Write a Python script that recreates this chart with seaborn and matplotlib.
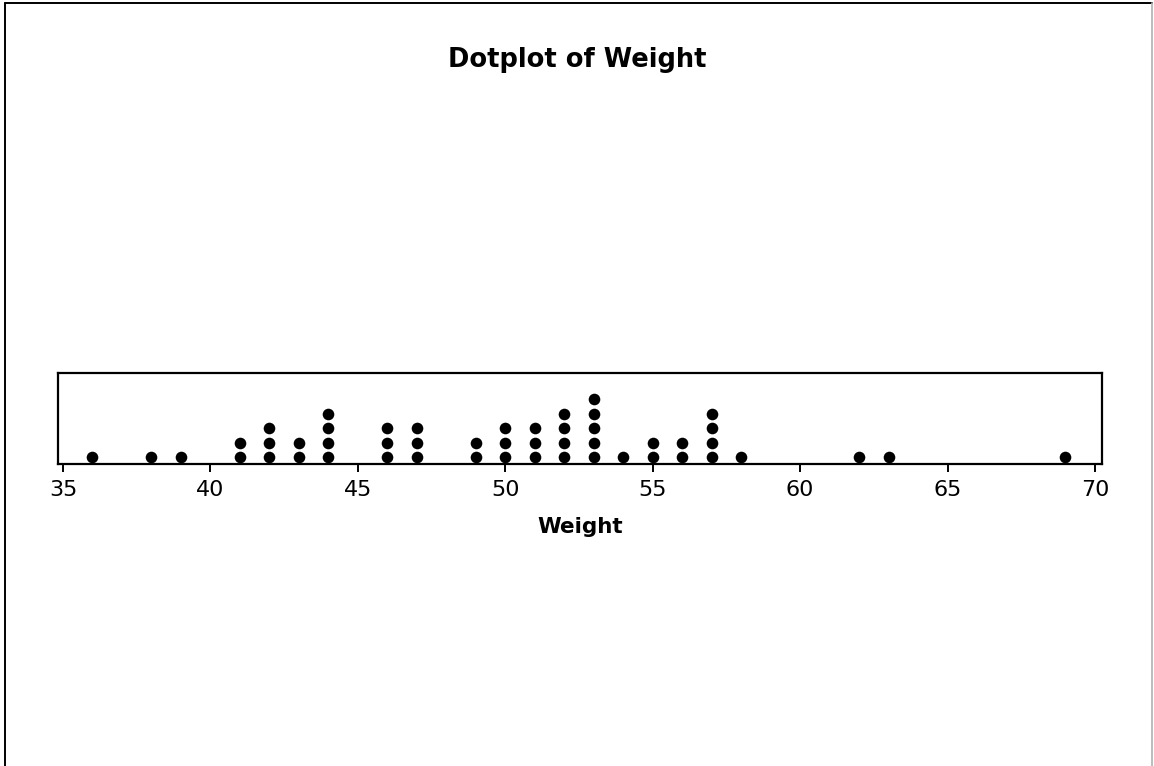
import matplotlib
matplotlib.use("Agg")
import matplotlib.pyplot as plt
from matplotlib.lines import Line2D
import seaborn as sns
import pandas as pd

# Observed weights and how many times each occurs
weights = [36, 38, 39, 41, 42, 43, 44, 46, 47, 49, 50, 51, 52, 53, 54, 55, 56, 57, 58, 62, 63, 69]
counts = [1, 1, 1, 2, 3, 2, 4, 3, 3, 2, 3, 3, 4, 5, 1, 2, 2, 4, 1, 1, 1, 1]
x_ticks = [35, 40, 45, 50, 55, 60, 65, 70]

# Expand into one row per observation, stacked upward within each value
rows = []
for w, c in zip(weights, counts):
    for level in range(1, c + 1):
        rows.append({"Weight": w, "level": level})
df = pd.DataFrame(rows)

sns.set_theme(style="white")
plt.rcParams["font.family"] = ["DejaVu Sans"]
plt.rcParams["text.color"] = "black"
plt.rcParams["xtick.color"] = "black"
plt.rcParams["axes.labelcolor"] = "black"

fig = plt.figure(figsize=(11.54, 7.66), dpi=100)
fig.patch.set_facecolor("white")
ax = fig.add_axes([58 / 1154, 1 - 464 / 766, (1102 - 58) / 1154, (464 - 373) / 766])

sns.scatterplot(data=df, x="Weight", y="level", ax=ax, color="black",
                s=70, marker="o", edgecolor="black", linewidth=0, legend=False)

ax.set_xlim(34.83, 70.24)
ax.set_ylim(0.51, 6.83)
ax.set_xticks(x_ticks)
ax.set_xticklabels([str(t) for t in x_ticks])
ax.set_yticks([])
ax.set_ylabel("")
ax.set_xlabel("Weight", fontsize=15.5, fontweight="bold", labelpad=12)
ax.tick_params(axis="x", bottom=True, direction="out", length=5.5, width=1.4,
               color="black", labelcolor="black", labelsize=16, pad=6)
for sp in ax.spines.values():
    sp.set_visible(True)
    sp.set_color("black")
    sp.set_linewidth(1.6)

fig.text(0.5, 1 - 60 / 766, "Dotplot of Weight", ha="center", va="center",
         fontsize=18.5, fontweight="bold", color="black")

# Outer frame: left and top in black, right edge in light grey
fig.add_artist(Line2D([5 / 1154, 5 / 1154], [0, 1 - 3 / 766], transform=fig.transFigure,
                      color="black", linewidth=1.4))
fig.add_artist(Line2D([5 / 1154, 1152 / 1154], [1 - 3 / 766, 1 - 3 / 766],
                      transform=fig.transFigure, color="black", linewidth=1.4))
fig.add_artist(Line2D([1152 / 1154, 1152 / 1154], [0, 1 - 3 / 766], transform=fig.transFigure,
                      color="#b0b0b0", linewidth=1.2))

fig.savefig("out.png", dpi=100, facecolor="white")
